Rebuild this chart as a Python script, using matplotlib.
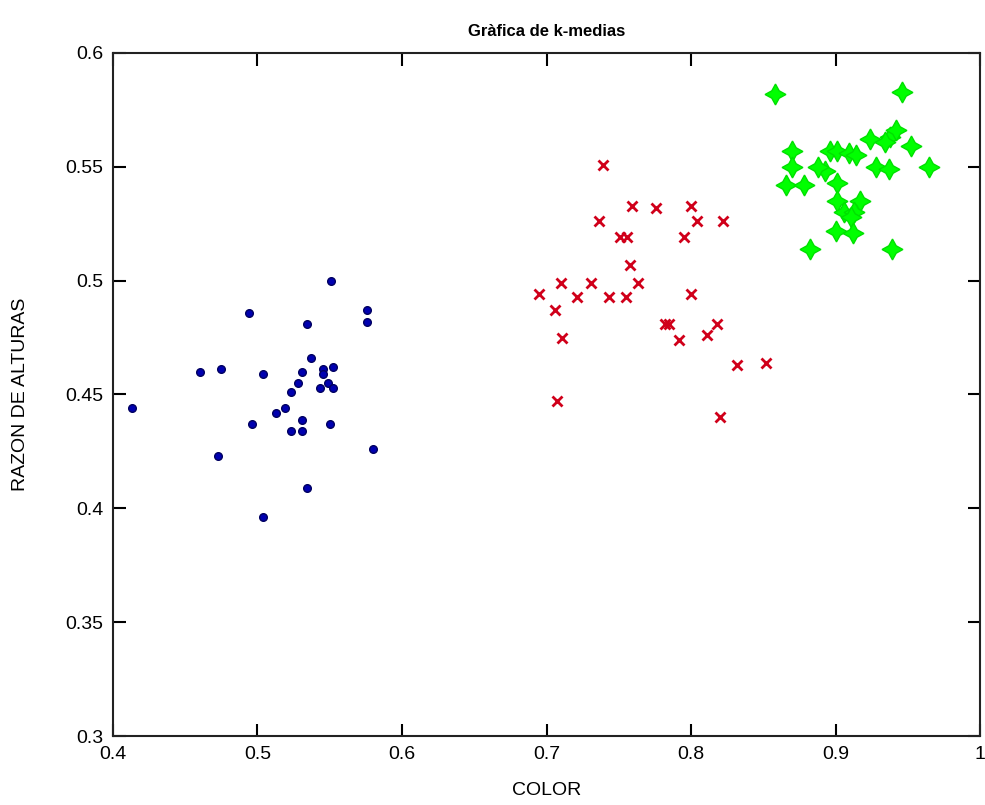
import numpy as np
import matplotlib.pyplot as plt
from matplotlib.ticker import FixedLocator, FixedFormatter

# ---- cluster 1 (blue dots) ----
blue_x = [0.551, 0.494, 0.576, 0.576, 0.534, 0.537, 0.460, 0.475, 0.504, 0.531,
          0.545, 0.545, 0.552, 0.528, 0.543, 0.549, 0.552, 0.523, 0.413, 0.519,
          0.513, 0.531, 0.496, 0.523, 0.531, 0.550, 0.580, 0.473, 0.534, 0.504]
blue_y = [0.500, 0.486, 0.487, 0.482, 0.481, 0.466, 0.460, 0.461, 0.459, 0.460,
          0.461, 0.459, 0.462, 0.455, 0.453, 0.455, 0.453, 0.451, 0.444, 0.444,
          0.442, 0.439, 0.437, 0.434, 0.434, 0.437, 0.426, 0.423, 0.409, 0.396]

# ---- cluster 2 (red crosses) ----
red_x = [0.739, 0.759, 0.776, 0.800, 0.736, 0.804, 0.822, 0.751, 0.756, 0.795,
         0.758, 0.710, 0.731, 0.763, 0.695, 0.721, 0.743, 0.755, 0.800, 0.706,
         0.782, 0.785, 0.818, 0.811, 0.792, 0.711, 0.832, 0.852, 0.707, 0.820]
red_y = [0.551, 0.533, 0.532, 0.533, 0.526, 0.526, 0.526, 0.519, 0.519, 0.519,
         0.507, 0.499, 0.499, 0.499, 0.494, 0.493, 0.493, 0.493, 0.494, 0.487,
         0.481, 0.481, 0.481, 0.476, 0.474, 0.475, 0.463, 0.464, 0.447, 0.440]

# ---- cluster 3 (green stars) ----
green_x = [0.858, 0.946, 0.938, 0.942, 0.924, 0.934, 0.896, 0.901, 0.909, 0.914,
           0.952, 0.965, 0.928, 0.937, 0.893, 0.901, 0.901, 0.917, 0.906, 0.913,
           0.911, 0.900, 0.939, 0.870, 0.870, 0.866, 0.878, 0.888, 0.882, 0.912]
green_y = [0.582, 0.583, 0.563, 0.566, 0.562, 0.561, 0.557, 0.557, 0.556, 0.555,
           0.559, 0.550, 0.550, 0.549, 0.548, 0.543, 0.535, 0.535, 0.530, 0.530,
           0.528, 0.522, 0.514, 0.557, 0.550, 0.542, 0.542, 0.550, 0.514, 0.521]

xticks = [0.4, 0.5, 0.6, 0.7, 0.8, 0.9, 1.0]
xticklabels = ["0.4", "0.5", "0.6", "0.7", "0.8", "0.9", "1"]
yticks = [0.3, 0.35, 0.4, 0.45, 0.5, 0.55, 0.6]
yticklabels = ["0.3", "0.35", "0.4", "0.45", "0.5", "0.55", "0.6"]

plt.rcParams["font.family"] = ["Liberation Sans", "DejaVu Sans"]

fig = plt.figure(figsize=(9.85, 8.05), dpi=100)
ax = fig.add_axes([0.1147, 0.0857, 0.8803, 0.8485])

ax.plot(blue_x, blue_y, linestyle="none", marker="o", markersize=5.5,
        markerfacecolor="#0000b0", markeredgecolor="#000060", markeredgewidth=1)
ax.plot(red_x, red_y, linestyle="none", marker="x", markersize=6.5,
        color="#d0001a", markeredgewidth=2)
ax.plot(green_x, green_y, linestyle="none", marker=(4, 1, 0), markersize=15,
        markerfacecolor="#00ff00", markeredgecolor="#00e000", markeredgewidth=1)

ax.set_xlim(0.4, 1.0)
ax.set_ylim(0.3, 0.6)
ax.xaxis.set_major_locator(FixedLocator(xticks))
ax.xaxis.set_major_formatter(FixedFormatter(xticklabels))
ax.yaxis.set_major_locator(FixedLocator(yticks))
ax.yaxis.set_major_formatter(FixedFormatter(yticklabels))
ax.tick_params(direction="in", length=9, width=1.5, top=True, right=True,
               labelsize=14, pad=7)

for s in ax.spines.values():
    s.set_linewidth(1.5)
    s.set_color("#222222")

ax.set_title("Gràfica de k-medias", fontsize=12, fontweight="bold", pad=12)
ax.set_xlabel("COLOR", fontsize=14, labelpad=14)
ax.set_ylabel("RAZON DE ALTURAS", fontsize=14, labelpad=26)

fig.savefig("out.png", dpi=100)
